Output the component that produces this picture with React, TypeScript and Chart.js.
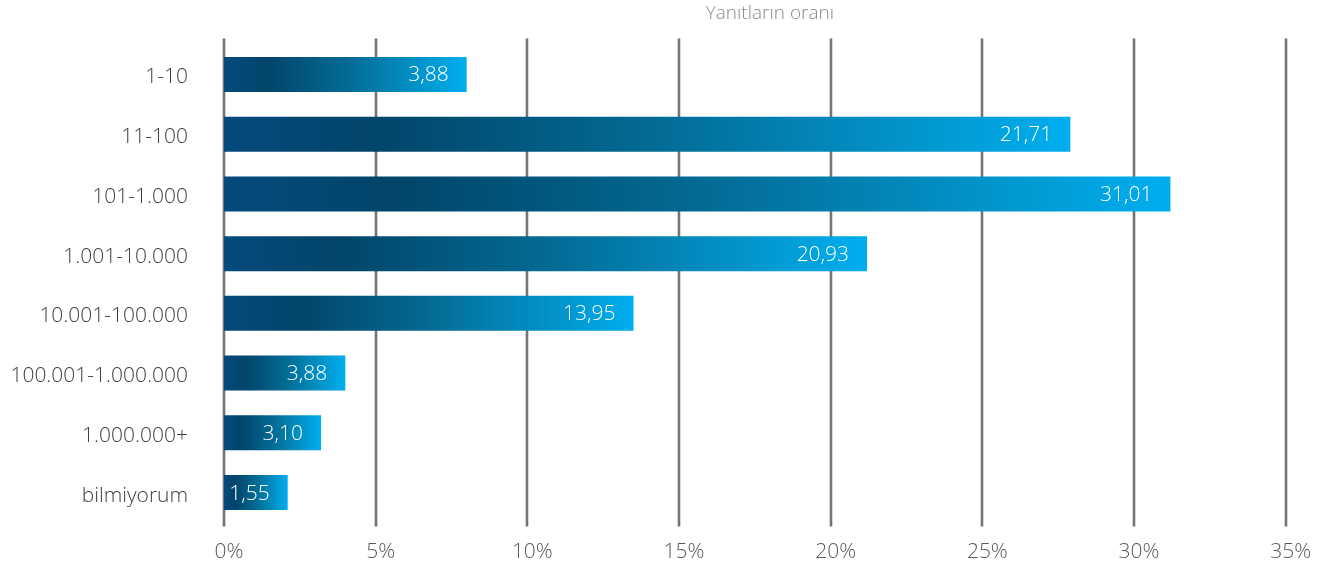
import React, { useEffect, useRef } from "react";
import { Chart, registerables } from "chart.js";

Chart.register(...registerables);

// ---- data ----
const categories = [
  "1-10",
  "11-100",
  "101-1.000",
  "1.001-10.000",
  "10.001-100.000",
  "100.001-1.000.000",
  "1.000.000+",
  "bilmiyorum",
];
// bar lengths as drawn in the picture (percent)
const barValues = [8.0, 27.9, 31.2, 21.2, 13.5, 4.0, 3.2, 2.1];
// value labels printed inside the bars
const valueLabels = ["3,88", "21,71", "31,01", "20,93", "13,95", "3,88", "3,10", "1,55"];
const xMin = 0;
const xMax = 35;
const xStep = 5;
const axisTitle = "Yanıtların oranı";

const FONT = "'Open Sans', 'Noto Sans', sans-serif";
const GRID_COLOR = "#747474";

const gradientStops: [number, string][] = [
  [0, "#054a7d"],
  [0.18, "#01456a"],
  [0.5, "#036a93"],
  [0.8, "#0293c9"],
  [1, "#00aeef"],
];

const gridPlugin = {
  id: "customGrid",
  beforeDatasetsDraw(chart: any) {
    const xs = chart.scales.x;
    const { top, bottom } = chart.chartArea;
    const ctx = chart.ctx;
    ctx.save();
    ctx.strokeStyle = GRID_COLOR;
    ctx.lineWidth = 2.6;
    xs.ticks.forEach((_t: any, i: number) => {
      const px = Math.round(xs.getPixelForTick(i));
      ctx.beginPath();
      ctx.moveTo(px, top - 6);
      ctx.lineTo(px, bottom + 4);
      ctx.stroke();
    });
    ctx.restore();
  },
};

const labelPlugin = {
  id: "valueLabels",
  afterDatasetsDraw(chart: any) {
    const ctx = chart.ctx;
    const meta = chart.getDatasetMeta(0);
    ctx.save();
    ctx.fillStyle = "#ffffff";
    ctx.font = `300 21px ${FONT}`;
    ctx.textAlign = "right";
    ctx.textBaseline = "middle";
    meta.data.forEach((bar: any, i: number) => {
      ctx.fillText(valueLabels[i], bar.x - 18, bar.y + 1);
    });
    ctx.restore();
  },
};

const titlePlugin = {
  id: "topTitle",
  afterDraw(chart: any) {
    const ctx = chart.ctx;
    const { left, right } = chart.chartArea;
    ctx.save();
    ctx.fillStyle = "#8a8a8a";
    ctx.font = `300 19px ${FONT}`;
    ctx.textAlign = "center";
    ctx.textBaseline = "middle";
    ctx.fillText(axisTitle, (left + right) / 2 + 15, 14);
    ctx.restore();
  },
};

export default function App() {
  const canvasRef = useRef<HTMLCanvasElement | null>(null);

  useEffect(() => {
    document.body.style.margin = "0";
    const canvas = canvasRef.current;
    if (!canvas) return;
    const chart = new Chart(canvas, {
      type: "bar",
      data: {
        labels: categories,
        datasets: [
          {
            data: barValues,
            backgroundColor: (c: any) => {
              const ch = c.chart;
              const xs = ch.scales && ch.scales.x;
              if (!xs || c.dataIndex == null) return "#036a93";
              const x0 = xs.getPixelForValue(0);
              const x1 = xs.getPixelForValue(barValues[c.dataIndex]);
              if (!isFinite(x0) || !isFinite(x1) || x1 <= x0) return "#036a93";
              const g = ch.ctx.createLinearGradient(x0, 0, x1, 0);
              gradientStops.forEach(([o, col]) => g.addColorStop(o, col));
              return g;
            },
            borderWidth: 0,
            barPercentage: 0.586,
            categoryPercentage: 1,
          },
        ],
      },
      options: {
        indexAxis: "y",
        animation: false,
        responsive: true,
        maintainAspectRatio: false,
        layout: { padding: { top: 44.6, right: 50.3, left: 0, bottom: 0 } },
        plugins: {
          legend: { display: false },
          tooltip: { enabled: false },
          title: { display: false },
        },
        scales: {
          x: {
            type: "linear",
            min: xMin,
            max: xMax,
            grid: { display: false, drawTicks: false },
            border: { display: false },
            ticks: {
              stepSize: xStep,
              padding: 17,
              labelOffset: 5,
              color: "#595959",
              font: { family: FONT, size: 21, weight: "300" },
              callback: (v: any) => `${v}%`,
            },
            afterFit: (s: any) => {
              s.height = 49.6;
            },
          },
          y: {
            grid: { display: false, drawTicks: false },
            border: { display: false },
            ticks: {
              padding: 36,
              color: "#404040",
              labelOffset: 3,
              font: { family: FONT, size: 21, weight: "300" },
            },
            afterFit: (s: any) => {
              s.width = 224;
              s.paddingTop = 0;
              s.paddingBottom = 0;
            },
          },
        },
      },
      plugins: [gridPlugin, labelPlugin, titlePlugin],
    });
    return () => chart.destroy();
  }, []);

  return (
    <div style={{ width: "1336px", height: "572px", position: "relative" }}>
      <canvas ref={canvasRef} />
    </div>
  );
}
